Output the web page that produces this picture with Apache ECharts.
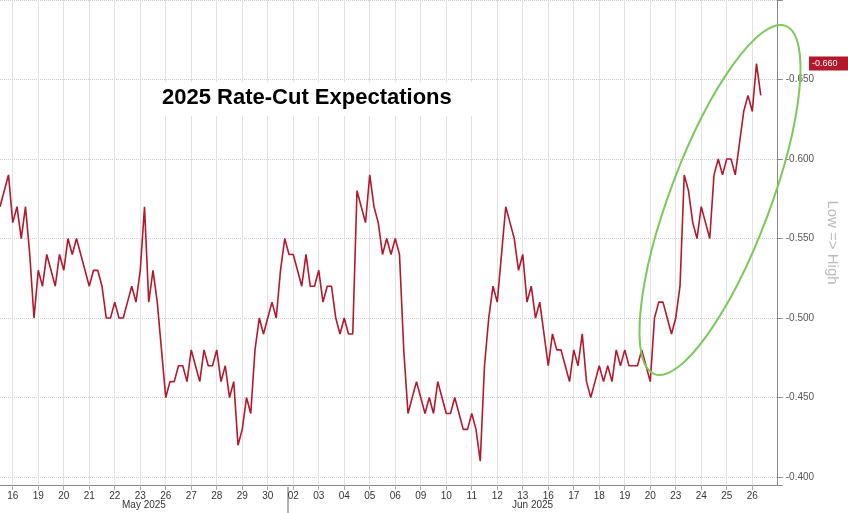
<!DOCTYPE html>
<html><head><meta charset="utf-8">
<script src="https://cdn.jsdelivr.net/npm/echarts@6/dist/echarts.min.js"></script>
<style>html,body{margin:0;padding:0;background:#fff}#c{width:848px;height:513px}</style>
</head><body><div id="c"></div>
<script>
var days = ['16','19','20','21','22','23','26','27','28','29','30','02','03','04','05','06','09','10','11','12','13','16','17','18','19','20','23','24','25','26']
// intraday readings per day (value shown negative)
var dayValues = [
  [0.57,0.58,0.59,0.56,0.57,0.55],
  [0.57,0.54,0.50,0.53,0.52,0.54],
  [0.53,0.52,0.54,0.53,0.55,0.54],
  [0.55,0.54,0.53,0.52,0.53,0.53],
  [0.52,0.50,0.50,0.51,0.50,0.50],
  [0.51,0.52,0.51,0.53,0.57,0.51],
  [0.53,0.51,0.48,0.45,0.46,0.46],
  [0.47,0.47,0.46,0.48,0.47,0.46],
  [0.48,0.47,0.47,0.48,0.46,0.47],
  [0.45,0.46,0.42,0.43,0.45,0.44],
  [0.48,0.50,0.49,0.50,0.51,0.50],
  [0.53,0.55,0.54,0.54,0.53,0.52],
  [0.54,0.52,0.52,0.53,0.51,0.52],
  [0.52,0.50,0.49,0.50,0.49,0.49],
  [0.58,0.57,0.56,0.59,0.57,0.56],
  [0.54,0.55,0.54,0.55,0.54,0.48],
  [0.44,0.45,0.46,0.45,0.44,0.45],
  [0.44,0.46,0.45,0.44,0.44,0.45],
  [0.44,0.43,0.43,0.44,0.43,0.41],
  [0.47,0.50,0.52,0.51,0.54,0.57],
  [0.56,0.55,0.53,0.54,0.51,0.52],
  [0.50,0.51,0.49,0.47,0.49,0.48],
  [0.48,0.47,0.46,0.48,0.47,0.49],
  [0.46,0.45,0.46,0.47,0.46,0.47],
  [0.46,0.48,0.47,0.48,0.47,0.47],
  [0.47,0.48,0.47,0.46,0.50,0.51],
  [0.51,0.50,0.49,0.50,0.52,0.59],
  [0.58,0.56,0.55,0.57,0.56,0.55],
  [0.59,0.60,0.59,0.60,0.60,0.59],
  [0.61,0.63,0.64,0.63,0.66,0.64]
]
var lastValue = -0.66
var yTicks = [-0.65, -0.6, -0.55, -0.5, -0.45, -0.4]
var perDay = 6, padPoints = 4

var cats = [], vals = []
days.forEach(function (d, i) {
  dayValues[i].forEach(function (v, j) {
    cats.push(i * perDay + j)
    vals.push(-v)
  })
})
for (var p = 0; p < padPoints; p++) { cats.push('pad' + p); vals.push(null) }

function isDayMid(idx) { return idx % perDay === 3 && idx < days.length * perDay }

var chart = echarts.init(document.getElementById('c'))
chart.setOption({
  backgroundColor: '#fff',
  animation: false,
  grid: { left: 0, right: 40, top: -18, bottom: 28 },
  xAxis: {
    type: 'category', data: cats, boundaryGap: false,
    axisLine: { lineStyle: { color: '#888' } },
    axisTick: { show: true, interval: function (i) { return isDayMid(i) }, lineStyle: { color: '#aaa' } },
    splitLine: { show: true, interval: function (i) { return isDayMid(i) }, lineStyle: { color: '#e2e2e2' } },
    axisLabel: {
      interval: function (i) { return isDayMid(i) },
      formatter: function (v, i) { return days[Math.floor(i / perDay)] },
      color: '#333', fontSize: 10, fontFamily: 'Liberation Sans Narrow, Liberation Sans', margin: 6
    }
  },
  yAxis: {
    type: 'value', position: 'right', inverse: true,
    min: -0.7, max: -0.395, interval: 0.05,
    name: 'Low => High', nameLocation: 'middle', nameRotate: -90, nameGap: 34,
    nameTextStyle: { color: '#bbb', fontSize: 15 },
    axisLine: { show: true, lineStyle: { color: '#888' } },
    axisTick: { show: true, lineStyle: { color: '#888' } },
    splitLine: { lineStyle: { color: '#ccc', type: 'dotted' } },
    axisLabel: {
      color: '#555', fontSize: 10,
      formatter: function (v) { return yTicks.some(function (t) { return Math.abs(t - v) < 1e-6 }) ? v.toFixed(3) : '' }
    }
  },
  series: [{
    type: 'line', data: vals, showSymbol: false, connectNulls: false,
    lineStyle: { color: '#b3182c', width: 1.6 }
  }]
})

var lastY = chart.convertToPixel({ yAxisIndex: 0 }, lastValue)
chart.setOption({
  graphic: [
    { type: 'rect', shape: { x: 0, y: 0, width: 320, height: 34 }, left: 155, top: 82, style: { fill: '#fff' }, z: 9 },
    { type: 'text', left: 162, top: 87, z: 10,
      style: { text: '2025 Rate-Cut Expectations', fill: '#000', fontSize: 22, fontWeight: 'bold', fontFamily: 'Liberation Sans' } },
    { type: 'line', shape: { x1: 288, y1: 487, x2: 288, y2: 513 }, style: { stroke: '#666', lineWidth: 1 } },
    { type: 'text', left: 122, top: 500, style: { text: 'May 2025', fill: '#333', fontSize: 10, fontFamily: 'Liberation Sans' } },
    { type: 'text', left: 512, top: 500, style: { text: 'Jun 2025', fill: '#333', fontSize: 10, fontFamily: 'Liberation Sans' } },
    { type: 'ellipse', x: 720, y: 200, rotation: -0.36, shape: { cx: 0, cy: 0, rx: 50, ry: 186 },
      style: { fill: 'none', stroke: '#7cc85a', lineWidth: 2 }, z: 10 },
    { type: 'rect', left: 809, top: lastY - 7, shape: { x: 0, y: 0, width: 39, height: 14 }, style: { fill: '#b3182c' }, z: 11 },
    { type: 'text', left: 812, top: lastY - 5, z: 12, style: { text: lastValue.toFixed(3), fill: '#fff', fontSize: 9, fontFamily: 'Liberation Sans' } }
  ]
})
</script></body></html>
